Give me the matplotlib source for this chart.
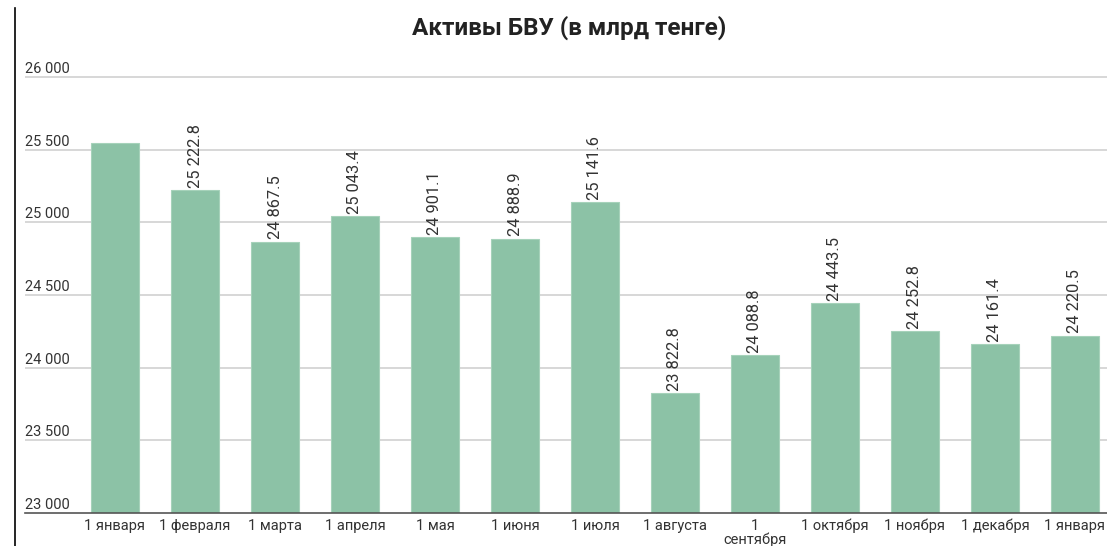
import matplotlib
matplotlib.use('Agg')
from matplotlib import pyplot as plt
from matplotlib.lines import Line2D
import matplotlib.transforms as mtransforms

plt.rcParams['font.family'] = ['Roboto', 'DejaVu Sans']

months = ['1 января', '1 февраля', '1 марта', '1 апреля', '1 мая', '1 июня',
          '1 июля', '1 августа', '1\nсентября', '1 октября', '1 ноября',
          '1 декабря', '1 января']
assets = [25546.0, 25222.8, 24867.5, 25043.4, 24901.1, 24888.9, 25141.6,
          23822.8, 24088.8, 24443.5, 24252.8, 24161.4, 24220.5]
# first bar has no value label in the source
show_label = [False] + [True] * 12
y_ticks = [23000, 23500, 24000, 24500, 25000, 25500, 26000]

W, H = 1107, 546
fig = plt.figure(figsize=(W / 100, H / 100), dpi=100)
ax = fig.add_axes([25 / W, 1 - 513 / H, (W - 25) / W, (513 - 62.5) / H])

x = range(len(months))
ax.bar(x, assets, width=0.61, color='#8cc2a6', edgecolor='#a6d2ba',
       linewidth=0.8, zorder=3)
ax.set_ylim(23000, 26100)
ax.set_xlim(-1.125, 12.4)

for s in ['top', 'right', 'left']:
    ax.spines[s].set_visible(False)
ax.spines['bottom'].set_color('#555555')
ax.spines['bottom'].set_linewidth(1.2)
ax.spines['bottom'].set_zorder(4)

ax.set_yticks([])
trans = mtransforms.blended_transform_factory(ax.transAxes, ax.transData)
for t in y_ticks:
    if t > 23000:
        ax.axhline(t, color='#d4d4d4', linewidth=1.3, zorder=1)
    ax.text(0.0, t + 55, f'{t:,}'.replace(',', ' '), transform=trans,
            ha='left', va='center', fontsize=10.5, color='#333333')

ax.set_xticks(list(x))
ax.set_xticklabels(months, fontsize=10.5, color='#333333', linespacing=1.0)
ax.tick_params(axis='x', length=0, pad=4)

for i, v in enumerate(assets):
    if show_label[i]:
        ax.text(i, v + 15, f'{v:,.1f}'.replace(',', ' '), rotation=90,
                ha='center', va='bottom', fontsize=11.8, color='#333333',
                zorder=5)

fig.text(569 / W, 1 - 28 / H, 'Активы БВУ (в млрд тенге)', ha='center',
         va='center', fontsize=17.5, fontweight='bold', color='#222222')

# left border line from the page
fig.add_artist(Line2D([15 / W, 15 / W], [0, 1 - 8 / H], color='black',
                      linewidth=1.2))

fig.savefig('out.png', dpi=100)
